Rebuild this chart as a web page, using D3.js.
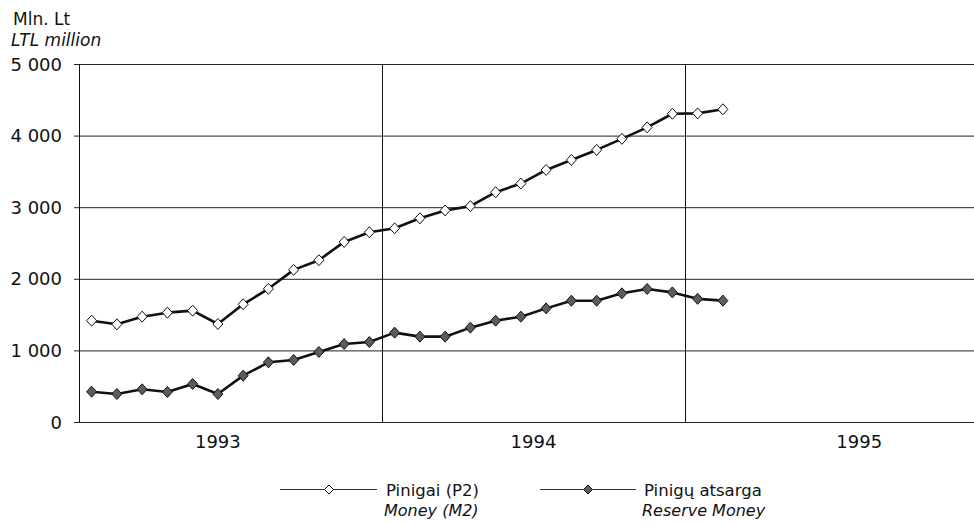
<!DOCTYPE html>
<html>
<head>
<meta charset="utf-8">
<script src="https://cdn.jsdelivr.net/npm/d3@7/dist/d3.min.js"></script>
<style>
  html, body { margin: 0; padding: 0; background: #fff; }
  svg { display: block; }
  text { font-family: "DejaVu Sans", sans-serif; fill: #111; }
</style>
</head>
<body>
<svg id="chart" width="974" height="525"></svg>
<script>
// ---- data (monthly, Jan 1993 – Feb 1995) ----
const months = d3.range(26); // month index from Jan 1993
const money = [1415, 1364, 1471, 1527, 1555, 1369, 1644, 1860, 2125, 2260, 2515, 2650,
               2705, 2845, 2955, 3015, 3210, 3330, 3520, 3660, 3800, 3955, 4115, 4305,
               4310, 4367];
const reserve = [423, 391, 457, 419, 531, 391, 647, 834, 866, 978, 1089, 1117,
                 1248, 1192, 1192, 1318, 1415, 1471, 1587, 1694, 1694, 1797, 1858, 1810,
                 1720, 1695];
const yTicks = [0, 1000, 2000, 3000, 4000, 5000];
const yearLabels = ["1993", "1994", "1995"];
const yearLabelAt = [5.5, 18, 30.9];     // month position of each year label
const yearBounds = [12, 24];             // year boundaries (month index)
const seriesNames = [["Pinigai (P2)", "Money (M2)"], ["Pinigų atsarga", "Reserve Money"]];

const svg = d3.select("#chart");
const x = d3.scaleLinear().domain([0, 36]).range([79, 988]);
const y = d3.scaleLinear().domain([0, 5000]).range([422, 64]);
const fmt = v => d3.format(",")(v).replace(/,/g, " ");

// horizontal grid lines
svg.append("g").selectAll("line").data(yTicks).join("line")
  .attr("x1", 74).attr("x2", 974)
  .attr("y1", d => y(d) + 0.5).attr("y2", d => y(d) + 0.5)
  .attr("stroke", "#222").attr("stroke-width", 1);

// vertical lines: axis + year boundaries
svg.append("g").selectAll("line").data([0].concat(yearBounds)).join("line")
  .attr("x1", d => Math.round(x(d)) + 0.5).attr("x2", d => Math.round(x(d)) + 0.5)
  .attr("y1", y(5000)).attr("y2", y(0))
  .attr("stroke", "#111").attr("stroke-width", 1);

// y labels
svg.append("g").selectAll("text").data(yTicks).join("text")
  .attr("x", 62).attr("y", d => y(d) + 6.5)
  .attr("text-anchor", "end").attr("font-size", 18)
  .text(fmt);

// year labels
svg.append("g").selectAll("text").data(yearLabels).join("text")
  .attr("x", (d, i) => x(yearLabelAt[i])).attr("y", 448)
  .attr("text-anchor", "middle").attr("font-size", 18)
  .text(d => d);

// unit labels
svg.append("text").attr("x", 13).attr("y", 25).attr("font-size", 17).text("Mln. Lt");
svg.append("text").attr("x", 11).attr("y", 46).attr("font-size", 17)
  .attr("font-style", "italic").text("LTL million");

// lines
const line = d3.line().x((d, i) => x(months[i] + 0.5)).y(d => y(d));
const diamond = (hw, hh) => `M0,${-hh}L${hw},0L0,${hh}L${-hw},0Z`;

function drawSeries(values, fill) {
  const g = svg.append("g");
  g.append("path").datum(values).attr("d", line)
    .attr("fill", "none").attr("stroke", "#111").attr("stroke-width", 2.6)
    .attr("stroke-linejoin", "round");
  g.selectAll("path.m").data(values).join("path").attr("class", "m")
    .attr("transform", (d, i) => `translate(${x(months[i] + 0.5)},${y(d)})`)
    .attr("d", diamond(5, 5.5))
    .attr("fill", fill).attr("stroke", "#111").attr("stroke-width", 1);
}
drawSeries(money, "#fff");
drawSeries(reserve, "#5c5c5c");

// legend
const legend = [
  { x1: 280, x2: 377, mx: 329, tx: 386, fill: "#fff", names: seriesNames[0] },
  { x1: 540, x2: 636, mx: 588, tx: 644, fill: "#5c5c5c", names: seriesNames[1] }
];
legend.forEach(l => {
  svg.append("line").attr("x1", l.x1).attr("x2", l.x2).attr("y1", 489.5).attr("y2", 489.5)
    .attr("stroke", "#333").attr("stroke-width", 1.2);
  svg.append("path").attr("transform", `translate(${l.mx},489.5)`).attr("d", diamond(4.5, 4.5))
    .attr("fill", l.fill).attr("stroke", "#111").attr("stroke-width", 1);
  svg.append("text").attr("x", l.tx).attr("y", 496).attr("font-size", 16.5).text(l.names[0]);
  svg.append("text").attr("x", l.tx - 2).attr("y", 516).attr("font-size", 16)
    .attr("font-style", "italic").text(l.names[1]);
});
</script>
</body>
</html>
